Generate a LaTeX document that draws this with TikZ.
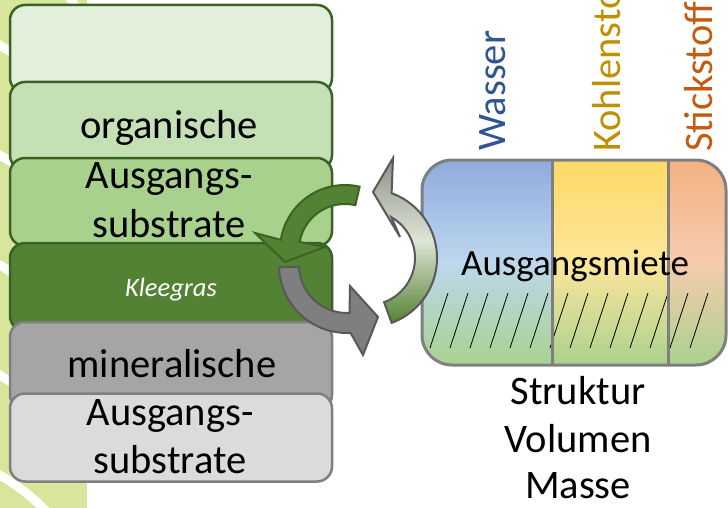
\documentclass[tikz,border=0pt]{standalone}
\usepackage{fontspec}
\setmainfont{Carlito}
\definecolor{layerone}{HTML}{E2EFDA}
\definecolor{layertwo}{HTML}{C5E0B4}
\definecolor{layerthree}{HTML}{A9D18E}
\definecolor{layerklee}{HTML}{548235}
\definecolor{layermin}{HTML}{A5A5A5}
\definecolor{layerbase}{HTML}{DBDBDB}
\definecolor{layerline}{HTML}{3B6124}
\definecolor{greyline}{HTML}{7F7F7F}
\definecolor{bgyellow}{HTML}{D8E69C}
\definecolor{wasserblue}{HTML}{2F5597}
\definecolor{kohlegold}{HTML}{BF9000}
\definecolor{stickorange}{HTML}{C55A11}
\definecolor{wassertop}{HTML}{8FAADC}
\definecolor{wassermid}{HTML}{BDD7EE}
\definecolor{kohletop}{HTML}{FFD966}
\definecolor{kohlemid}{HTML}{FCE69A}
\definecolor{sticktop}{HTML}{F4B183}
\definecolor{stickmid}{HTML}{F6CBAD}
\definecolor{mietegreen}{HTML}{A9D18E}
\definecolor{arrowgrey}{HTML}{7F7F7F}
\definecolor{arrowline}{HTML}{595959}
\definecolor{arrowgreen}{HTML}{548235}
\definecolor{arrowgreenline}{HTML}{3C6321}
\definecolor{arrowtop}{HTML}{8C928A}
\definecolor{arrowmid}{HTML}{DEE5D5}

\begin{document}
\begin{tikzpicture}[x=1pt, y=-1pt,
    layerbox/.style={rounded corners=15, line width=2.5, minimum width=322,
        minimum height=88, inner sep=0},
    greenbox/.style={layerbox, draw=layerline},
    greybox/.style={layerbox, draw=greyline},
    bigtext/.style={font=\fontsize{40.5}{48}\selectfont, inner sep=0, anchor=base},
    sidelabel/.style={font=\fontsize{40.5}{48}\selectfont, inner sep=0, rotate=90,
        anchor=base west},
    blockarrow/.style={line width=2, line join=miter}
]
    \clip (0,0) rectangle (728,508);
    % background stripes
    \fill[bgyellow] (0,0) rectangle (87,508);
    \foreach \y in {-70,40,150,260,370,470}
        \draw[white, line width=9] (-10,\y) .. controls (30,\y+20) and (60,\y+50) .. (95,\y+105);

    % soil layers
    \node[greenbox, fill=layerone]   (schicht1) at (171,49) {};
    \node[greenbox, fill=layertwo]   (schicht2) at (171,126) {};
    \node[greenbox, fill=layerthree] (schicht3) at (171,202) {};
    \node[greenbox, fill=layerklee]  (schicht4) at (171,287) {};
    \node[greybox, fill=layermin]    (schicht5) at (171,366) {};
    \node[greybox, fill=layerbase]   (schicht6) at (171,437.5) {};

    \node[bigtext] (orgA) at (169,139) {organische};
    \node[bigtext] (orgB) at (169,188) {Ausgangs-};
    \node[bigtext] (orgC) at (169,237) {substrate};
    \node[font=\itshape\fontsize{26.5}{30}\selectfont, text=white, inner sep=0,
        anchor=base] (klee) at (171,296) {Kleegras};
    \node[bigtext] (minA) at (172,377) {mineralische};
    \node[bigtext] (minB) at (170,425) {Ausgangs-};
    \node[bigtext] (minC) at (170,473) {substrate};

    % Miete
    \begin{scope}
        \clip[rounded corners=30] (422,160) rectangle (726,365);
        \path[top color=wassertop, bottom color=mietegreen, middle color=wassermid]
            (420,158) rectangle (552,367);
        \path[top color=kohletop, bottom color=mietegreen, middle color=kohlemid]
            (552,158) rectangle (668,367);
        \path[top color=sticktop, bottom color=mietegreen, middle color=stickmid]
            (668,158) rectangle (728,367);
        \foreach \i in {0,...,13}
            \draw[line width=0.8] (430+20*\i,348) -- (448+20*\i,293);
        \draw[greyline, line width=3] (552,158) rectangle (668,367);
    \end{scope}
    \draw[greyline, line width=3, rounded corners=30] (422,160) rectangle (726,365);

    \node[font=\fontsize{37}{44}\selectfont, inner sep=0, anchor=base] (miete)
        at (575,275) {Ausgangsmiete};
    \node[bigtext] (struktur) at (578,404) {Struktur};
    \node[bigtext] (volumen) at (578,452) {Volumen};
    \node[bigtext] (masse) at (578,498) {Masse};

    \node[sidelabel, text=wasserblue] (wasser) at (505,151) {Wasser};
    \node[sidelabel, text=kohlegold] (kohle) at (620,152) {Kohlenstoff};
    \node[sidelabel, text=stickorange] (stick) at (712,152) {Stickstoff};

    % cycle arrows
    \coordinate (gc) at (347,265);
    \coordinate (vc) at (345,250);
    \coordinate (rc) at (368,258);
    \draw[blockarrow, fill=arrowgrey, draw=arrowline]
        ([shift={(178:68)}]gc) arc[start angle=178, end angle=87, radius=68]
        -- (363,355) -- (378,317) -- (350,286)
        -- ([shift={(87:48)}]gc) arc[start angle=87, end angle=178, radius=48] -- cycle;
    \draw[blockarrow, fill=arrowgreen, draw=arrowgreenline]
        ([shift={(-77:65)}]vc) arc[start angle=-77, end angle=-171, radius=65]
        -- (255,233) -- (285,262) -- (325,247)
        -- ([shift={(-170:46)}]vc) arc[start angle=-170, end angle=-77, radius=46] -- cycle;
    \draw[blockarrow, draw=arrowline, top color=arrowtop, bottom color=arrowgreen,
        middle color=arrowmid]
        ([shift={(70:69)}]rc) arc[start angle=70, end angle=-70, radius=69]
        -- (393,158) -- (373,192) -- (400,237)
        -- ([shift={(-60:47)}]rc) arc[start angle=-60, end angle=70, radius=47] -- cycle;
\end{tikzpicture}
\end{document}
